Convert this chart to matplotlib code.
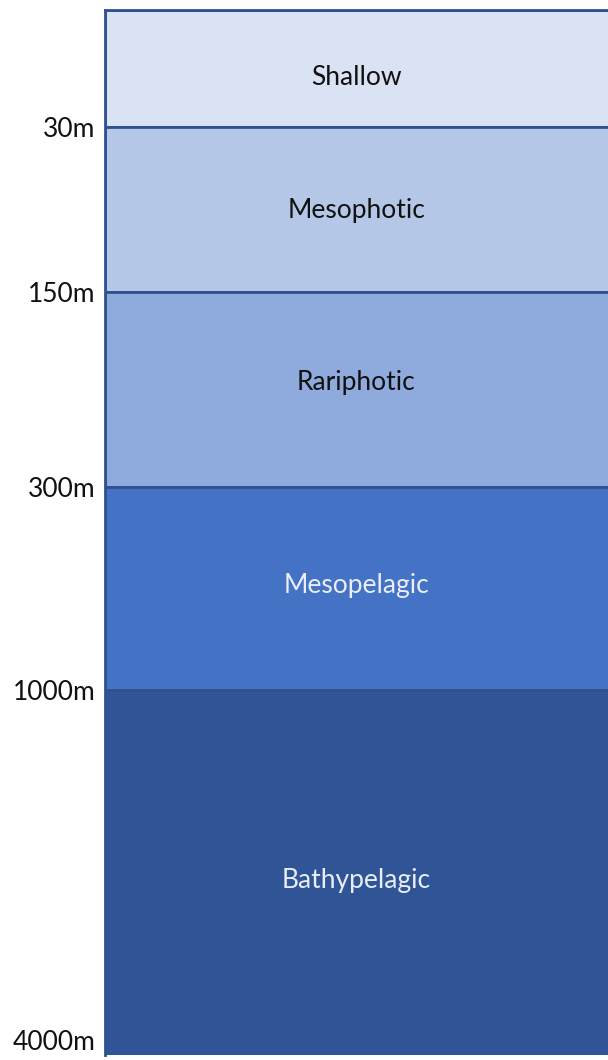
import matplotlib.pyplot as plt

# Depth zones, top to bottom
zones = ['Shallow', 'Mesophotic', 'Rariphotic', 'Mesopelagic', 'Bathypelagic']
boundaries = ['30m', '150m', '300m', '1000m', '4000m']
# display height of each band (not to depth scale in the original)
band_heights = [117, 165, 195, 203, 365]
colors = ['#DAE3F3', '#B4C7E7', '#8FAADC', '#4472C4', '#2F5597']
text_colors = ['#111111', '#111111', '#111111', '#E9EEF8', '#E9EEF8']
label_shift = [9, 1, -7, -3, 8]  # small nudges of zone labels from band centre
edge = '#2F528F'

plt.rcParams['font.family'] = ['Lato', 'DejaVu Sans']

fig = plt.figure(figsize=(6.08, 10.60), dpi=100)
W, H = 608, 1060
left, top, bottom = 105, 10, 1055
ax = fig.add_axes([left / W, (H - bottom) / H, (W + 10 - left) / W, (bottom - top) / H])

tops = [sum(band_heights[:i]) for i in range(len(band_heights))]
ax.bar([0.5] * len(zones), band_heights, bottom=tops, width=1.0,
       color=colors, edgecolor=edge, linewidth=2)
# bathypelagic band has no dark outline at the bottom
ax.bar(0.5, 6, bottom=tops[-1] + band_heights[-1] - 3, width=0.99,
       color=colors[-1], linewidth=0)

for z, t, h, tc, d in zip(zones, tops, band_heights, text_colors, label_shift):
    ax.text(0.5 - 0.01, t + h / 2 + d, z, ha='center', va='center', fontsize=19, color=tc)

total = sum(band_heights)
ax.set_xlim(0, 1)
ax.set_ylim(total, 0)
ax.set_xticks([])
ends = [t + h for t, h in zip(tops, band_heights)]
ax.set_yticks(ends)
ax.set_yticklabels(boundaries, fontsize=19, color='#111111')
ax.tick_params(axis='y', length=0, pad=7)
ax.get_yticklabels()[-1].set_va('bottom')
for s in ax.spines.values():
    s.set_color(edge)
    s.set_linewidth(2)
ax.spines['right'].set_visible(False)
ax.spines['bottom'].set_visible(False)

fig.savefig('out.png', dpi=100)
